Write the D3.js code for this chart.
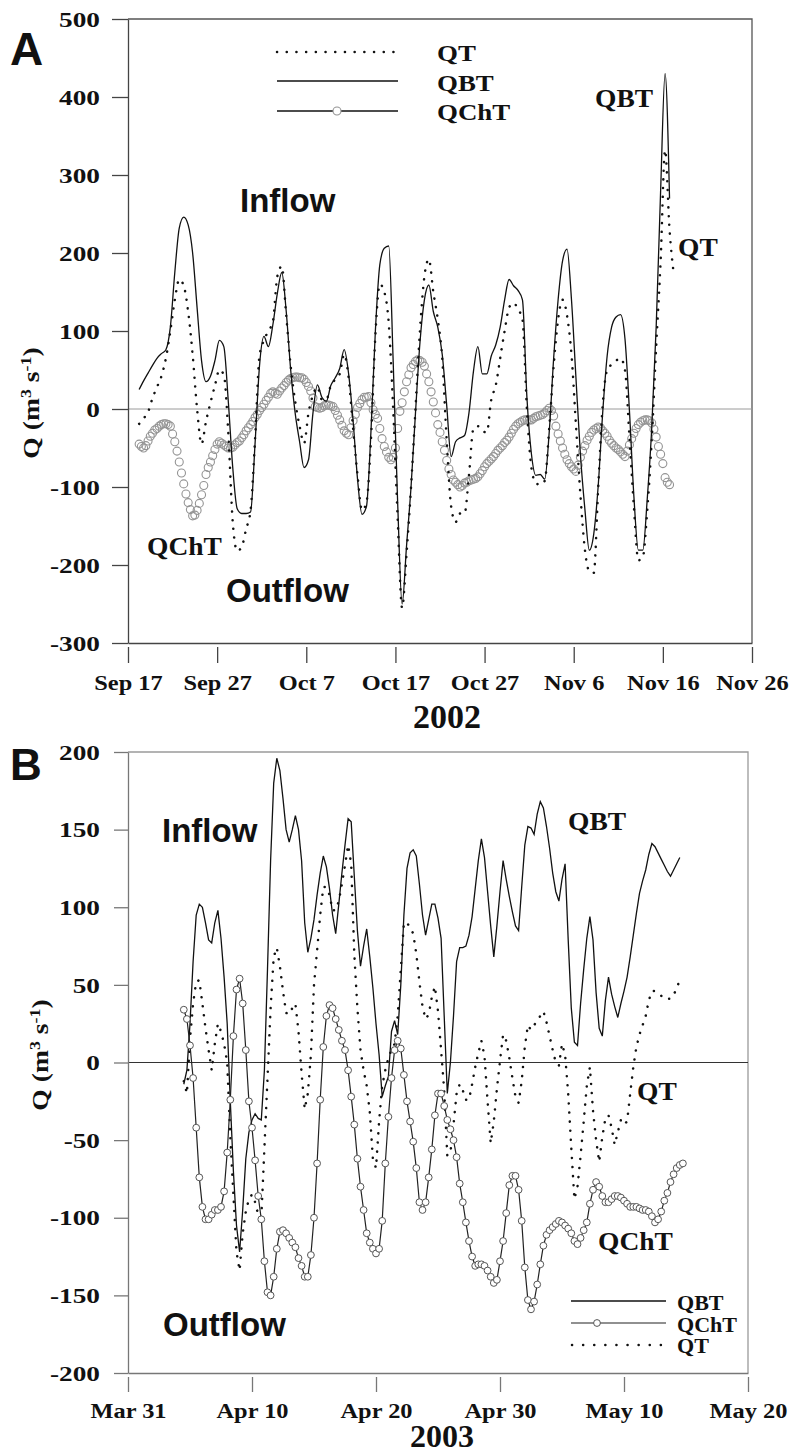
<!DOCTYPE html>
<html><head><meta charset="utf-8">
<script src="https://cdn.jsdelivr.net/npm/d3@7"></script>
<style>
html,body{margin:0;padding:0;background:#fff;}
svg{display:block;}
</style></head><body>
<svg id="chart" width="793" height="1455"></svg>
<script>
// ---------------- DATA ----------------
// Panel A (2002): QBT and QT every 12 h, QChT every 6 h, all starting 2002-09-18 06:00
const startA = "2002-09-18T06:00:00Z";
const stepA = 12;      // hours (QBT, QT)
const stepQChtA = 6;   // hours (QChT)
const qbtA = [25,36,46,56,65,71,76,105,175,232,
246,236,200,130,62,35,42,62,88,80,
10,-75,-128,-134,-134,-132,-45,55,93,80,
108,148,175,125,50,-5,-42,-75,-65,-5,
31,15,10,30,40,52,76,45,-15,-90,
-135,-125,-30,100,185,206,209,60,-120,-250,
-175,-100,-5,85,140,159,125,105,70,5,
-61,-42,-37,-34,-5,48,80,45,45,68,
82,105,140,166,158,152,140,15,-57,-85,
-84,-90,-30,65,140,190,205,140,40,-58,
-128,-181,-160,-98,-5,68,105,118,121,90,
-2,-112,-181,-181,-115,-25,105,280,430,270];
const qtA = [-19,-12,-4,14,28,42,65,100,140,166,
158,125,70,0,-45,-16,8,30,50,44,
-30,-145,-182,-177,-154,-130,-40,68,88,100,
112,170,183,120,55,10,-22,-44,-5,18,
28,12,12,30,38,45,70,40,-25,-85,
-130,-120,-40,95,160,150,110,0,-140,-255,
-185,-100,0,100,170,192,150,115,65,-40,
-125,-145,-134,-134,-85,-25,-22,-28,-30,12,
30,65,100,130,136,128,115,0,-75,-95,
-97,-92,-25,55,115,140,120,70,-20,-110,
-180,-208,-210,-100,5,50,57,62,65,50,
-35,-125,-194,-190,-130,-40,80,190,332,230,
170];
const qchtA = [-45,-48,-50,-47,-41,-35,-31,-27,-25,-22,-20,-19,
-19,-20,-22,-32,-42,-54,-68,-82,-96,-109,-120,-129,
-137,-136,-130,-121,-110,-98,-84,-75,-68,-60,-52,-45,
-42,-44,-46,-48,-50,-50,-49,-46,-43,-41,-37,-33,
-28,-24,-20,-16,-11,-7,-2,2,6,11,15,20,
22,20,19,23,27,30,34,37,39,40,41,41,
40,40,38,34,29,23,14,3,2,1,2,4,
5,5,4,3,-2,-8,-14,-21,-28,-31,-33,-24,
-15,-7,2,7,12,15,15,16,8,-1,-7,-12,
-25,-38,-48,-55,-62,-65,-62,-50,-25,-3,8,22,
35,44,53,57,61,63,62,60,55,45,35,22,
9,-5,-20,-30,-42,-53,-66,-77,-84,-91,-94,-97,
-100,-98,-95,-94,-92,-91,-90,-89,-87,-83,-79,-74,
-70,-67,-64,-61,-57,-53,-50,-47,-43,-40,-36,-31,
-26,-22,-19,-17,-15,-14,-14,-14,-14,-12,-10,-9,
-8,-7,-5,-2,1,-2,-9,-22,-32,-41,-50,-58,
-65,-70,-74,-77,-80,-72,-62,-54,-47,-40,-35,-30,
-27,-25,-23,-24,-28,-31,-35,-40,-44,-47,-50,-52,
-55,-58,-61,-54,-46,-38,-31,-25,-20,-17,-15,-14,
-14,-15,-18,-26,-36,-48,-58,-70,-88,-94,-97];

// Panel B (2003): all series every 6 h starting 2003-04-04 12:00
const startB = "2003-04-04T12:00:00Z";
const stepB = 6; // hours
const qbtB = [-14,-5,25,65,95,102,100,90,79,77,
90,98,80,55,25,-25,-70,-105,-122,-95,
-62,-45,-37,-33,-36,-37,-5,60,130,180,
196,188,170,150,142,150,159,150,130,90,
71,80,92,108,122,133,126,112,95,83,
102,122,140,157,155,120,85,62,75,86,
68,48,25,5,-22,-15,-9,20,27,18,
50,95,125,135,137,133,115,95,82,92,
102,102,93,80,30,-20,0,30,65,74,
74,75,82,94,112,130,144,132,110,88,
68,88,110,130,118,107,97,88,85,113,
140,152,151,147,160,168,164,152,138,122,
110,104,118,128,79,35,13,11,38,60,
80,94,79,45,22,17,40,55,44,36,
29,38,46,55,68,82,96,109,117,124,
134,141,139,135,131,127,123,120,124,128,
132];
const qtB = [-12,-20,15,38,52,53,38,22,8,-5,
12,25,20,12,0,-48,-85,-122,-134,-110,
-96,-88,-85,-90,-98,-100,-55,-10,35,68,
74,62,46,32,31,35,38,20,-7,-30,
-20,5,50,72,95,113,113,108,98,98,
104,115,127,140,128,70,35,8,-5,-15,
-32,-62,-68,-38,-15,-5,3,8,12,30,
60,90,90,87,83,70,52,36,28,31,
42,49,33,8,-18,-60,-58,-40,-20,-14,
-18,-24,-24,-14,-3,6,14,4,-25,-52,
-38,-17,1,18,14,3,-10,-22,-26,-12,
10,24,21,24,27,30,33,26,17,8,
0,-2,12,5,-20,-55,-88,-80,-60,-38,
-15,-3,-31,-50,-64,-48,-36,-34,-42,-53,
-45,-37,-40,-38,-20,-3,10,18,24,30,
40,46,46,45,43,41,41,41,44,47,
54];
const qchtB = [34,28,11,-10,-42,-74,-93,-101,-101,-98,
-95,-95,-93,-83,-58,-24,17,47,54,38,
8,-25,-42,-63,-86,-101,-128,-148,-150,-138,
-120,-109,-108,-110,-113,-116,-119,-126,-131,-138,
-138,-124,-100,-65,-24,10,30,37,35,28,
21,14,8,-5,-22,-40,-62,-80,-95,-110,
-116,-120,-123,-120,-102,-65,-35,-10,8,14,
9,-8,-25,-38,-51,-68,-90,-95,-90,-74,
-56,-34,-20,-20,-28,-37,-43,-50,-61,-78,
-90,-103,-115,-125,-131,-130,-130,-131,-134,-138,
-142,-140,-128,-115,-97,-79,-73,-73,-82,-102,
-132,-153,-159,-154,-143,-130,-118,-111,-108,-106,
-104,-102,-103,-105,-107,-110,-115,-117,-113,-108,
-103,-91,-82,-77,-80,-86,-90,-90,-88,-86,
-86,-87,-89,-91,-93,-93,-93,-94,-95,-95,
-96,-99,-103,-101,-96,-89,-84,-77,-72,-68,
-66,-65];

// Axis ticks
const yTicksA = [-300,-200,-100,0,100,200,300,400,500];
const xTickDatesA = ["2002-09-17","2002-09-27","2002-10-07","2002-10-17","2002-10-27","2002-11-06","2002-11-16","2002-11-26"];
const xTickLabelsA = ["Sep 17","Sep 27","Oct 7","Oct 17","Oct 27","Nov 6","Nov 16","Nov 26"];
const yTicksB = [-200,-150,-100,-50,0,50,100,150,200];
const xTickDatesB = ["2003-03-31","2003-04-10","2003-04-20","2003-04-30","2003-05-10","2003-05-20"];
const xTickLabelsB = ["Mar 31","Apr 10","Apr 20","Apr 30","May 10","May 20"];

// ---------------- DRAWING ----------------
const SERIF = '"Liberation Serif","Times New Roman",Times,serif';
const SANS = '"Liberation Sans",Arial,Helvetica,sans-serif';
const svg = d3.select("#chart");

function series(startISO, stepHours, values){
  const t0 = new Date(startISO).getTime();
  return values.map((v,i)=>({t:new Date(t0 + i*stepHours*3600e3), v}));
}
function addText(g, x, y, str, size, family, sx, anchor, weight){
  return g.append("text")
    .attr("transform", `translate(${x},${y}) scale(${sx},1)`)
    .attr("text-anchor", anchor || "start")
    .style("font-family", family).style("font-size", size+"px")
    .style("font-weight", weight || "bold").style("fill", "#111")
    .text(str);
}
function yLabel(g, x, y, size){
  const t = g.append("text")
    .attr("transform", `translate(${x},${y}) rotate(-90) scale(1.2,1)`)
    .attr("text-anchor","middle")
    .style("font-family", SERIF).style("font-size", size+"px")
    .style("font-weight","bold").style("fill","#111");
  t.append("tspan").text("Q (m");
  t.append("tspan").attr("dy",-8).style("font-size",(size*0.65)+"px").text("3");
  t.append("tspan").attr("dy",8).text(" s");
  t.append("tspan").attr("dy",-8).style("font-size",(size*0.65)+"px").text("-1");
  t.append("tspan").attr("dy",8).text(")");
}

function panel(cfg){
  const g = svg.append("g");
  const x = d3.scaleUtc().domain(cfg.xDomain.map(d=>new Date(d+"T00:00:00Z"))).range([cfg.left, cfg.right]);
  const y = d3.scaleLinear().domain(cfg.yDomain).range([cfg.bottom, cfg.top]);

  g.append("path")
    .attr("d", `M${cfg.left},${cfg.top}H${cfg.right}V${cfg.bottom}`)
    .attr("fill","none").attr("stroke",cfg.frameColor).attr("stroke-width",1.3);
  g.append("line").attr("x1",cfg.left).attr("x2",cfg.right)
    .attr("y1",y(0)).attr("y2",y(0))
    .attr("stroke",cfg.zeroColor).attr("stroke-width",cfg.zeroWidth);

  const ya = g.append("g").attr("transform",`translate(${cfg.left},0)`)
    .call(d3.axisLeft(y).tickValues(cfg.yTicks).tickFormat(d=>String(d)).tickSize(cfg.yTickLen).tickSizeOuter(0));
  ya.select(".domain").attr("stroke",cfg.axisColor).attr("stroke-width",1.3);
  ya.selectAll(".tick line").attr("stroke",cfg.axisColor).attr("stroke-width",1.3);
  ya.selectAll(".tick text")
    .attr("x", -28/1.3).attr("dy","0.34em")
    .attr("transform","scale(1.3,1)")
    .style("font-family",SERIF).style("font-size","21px").style("font-weight","bold").style("fill","#111");

  const xa = g.append("g").attr("transform",`translate(0,${cfg.bottom})`)
    .call(d3.axisBottom(x).tickValues(cfg.xTickDates.map(d=>new Date(d+"T00:00:00Z")))
      .tickFormat((d,i)=>cfg.xTickLabels[i]).tickSize(20).tickSizeOuter(0));
  xa.select(".domain").attr("stroke",cfg.axisColor).attr("stroke-width",1.3);
  xa.selectAll(".tick line").attr("y1",4).attr("y2",cfg.xTickEnd).attr("stroke",cfg.axisColor).attr("stroke-width",1.3);
  xa.selectAll(".tick text")
    .attr("y", cfg.xLabelBase).attr("dy",0).attr("x",0)
    .attr("transform","scale(1.22,1)")
    .style("font-family",SERIF).style("font-size","20px").style("font-weight","bold").style("fill","#111");

  return {g, x, y};
}

// ---------- Panel A ----------
const A = panel({
  xDomain:["2002-09-17","2002-11-26"], yDomain:[-300,500],
  left:128, right:752, top:19, bottom:643,
  yTicks:yTicksA, xTickDates:xTickDatesA, xTickLabels:xTickLabelsA,
  yTickLen:16, xTickEnd:20, xLabelBase:47,
  frameColor:"#555", axisColor:"#444", zeroColor:"#9a9a9a", zeroWidth:1
});
const dA_qbt = series(startA, stepA, qbtA);
const dA_qt = series(startA, stepA, qtA);
const dA_qcht = series(startA, stepQChtA, qchtA);
const lineA = d3.line().x(d=>A.x(d.t)).y(d=>A.y(d.v)).curve(d3.curveMonotoneX);

A.g.append("g").selectAll("circle").data(dA_qcht).join("circle")
  .attr("cx",d=>A.x(d.t)).attr("cy",d=>A.y(d.v)).attr("r",4)
  .attr("fill","none").attr("stroke","#949494").attr("stroke-width",1.1);
A.g.append("path").datum(dA_qbt).attr("d",lineA)
  .attr("fill","none").attr("stroke","#111").attr("stroke-width",1.3);
A.g.append("path").datum(dA_qt).attr("d",lineA)
  .attr("fill","none").attr("stroke","#111").attr("stroke-width",2.5)
  .attr("stroke-dasharray","0.1 8.6").attr("stroke-linecap","round");

// legend A
const legA = A.g.append("g");
legA.append("line").attr("x1",277).attr("x2",395).attr("y1",52).attr("y2",52)
  .attr("stroke","#111").attr("stroke-width",2.5).attr("stroke-dasharray","0.1 9.6").attr("stroke-linecap","round");
legA.append("line").attr("x1",277).attr("x2",398).attr("y1",81).attr("y2",81)
  .attr("stroke","#111").attr("stroke-width",1.3);
legA.append("line").attr("x1",277).attr("x2",398).attr("y1",111).attr("y2",111)
  .attr("stroke","#111").attr("stroke-width",1.3);
legA.append("circle").attr("cx",337).attr("cy",111).attr("r",4)
  .attr("fill","#fff").attr("stroke","#949494").attr("stroke-width",1.1);
addText(legA,437,61,"QT",24,SERIF,1.12);
addText(legA,437,90.5,"QBT",24,SERIF,1.12);
addText(legA,437,120,"QChT",24,SERIF,1.12);

// annotations A
addText(A.g,10,65,"A",46,SANS,1);
addText(A.g,240,212,"Inflow",33,SANS,1);
addText(A.g,226,602,"Outflow",33,SANS,1);
addText(A.g,595,107,"QBT",25,SERIF,1.1);
addText(A.g,678,256,"QT",25,SERIF,1.1);
addText(A.g,147,555,"QChT",25,SERIF,1.1);
addText(A.g,447,728,"2002",34,SERIF,1,"middle");
yLabel(A.g,39,403,23);

// ---------- Panel B ----------
const B = panel({
  xDomain:["2003-03-31","2003-05-20"], yDomain:[-200,200],
  left:128, right:748, top:752, bottom:1373,
  yTicks:yTicksB, xTickDates:xTickDatesB, xTickLabels:xTickLabelsB,
  yTickLen:14, xTickEnd:19, xLabelBase:45,
  frameColor:"#9a9a9a", axisColor:"#777", zeroColor:"#333", zeroWidth:1.2
});
const dB_qbt = series(startB, stepB, qbtB);
const dB_qt = series(startB, stepB, qtB);
const dB_qcht = series(startB, stepB, qchtB);
const lineB = d3.line().x(d=>B.x(d.t)).y(d=>B.y(d.v));

B.g.append("path").datum(dB_qbt).attr("d",lineB)
  .attr("fill","none").attr("stroke","#111").attr("stroke-width",1.3);
B.g.append("path").datum(dB_qt).attr("d",lineB)
  .attr("fill","none").attr("stroke","#111").attr("stroke-width",2.5)
  .attr("stroke-dasharray","0.1 9").attr("stroke-linecap","round");
B.g.append("path").datum(dB_qcht).attr("d",lineB)
  .attr("fill","none").attr("stroke","#222").attr("stroke-width",1.2);
B.g.append("g").selectAll("circle").data(dB_qcht).join("circle")
  .attr("cx",d=>B.x(d.t)).attr("cy",d=>B.y(d.v)).attr("r",3.4)
  .attr("fill","#fff").attr("stroke","#555").attr("stroke-width",1);

// legend B
const legB = B.g.append("g");
legB.append("line").attr("x1",571).attr("x2",666).attr("y1",1301).attr("y2",1301)
  .attr("stroke","#111").attr("stroke-width",1.3);
legB.append("line").attr("x1",571).attr("x2",666).attr("y1",1323).attr("y2",1323)
  .attr("stroke","#222").attr("stroke-width",1.2);
legB.append("circle").attr("cx",597).attr("cy",1323).attr("r",3.4)
  .attr("fill","#fff").attr("stroke","#555").attr("stroke-width",1);
legB.append("line").attr("x1",572).attr("x2",662).attr("y1",1345).attr("y2",1345)
  .attr("stroke","#111").attr("stroke-width",2.5).attr("stroke-dasharray","0.1 11").attr("stroke-linecap","round");
addText(legB,677,1310,"QBT",21,SERIF,1.05);
addText(legB,677,1332,"QChT",21,SERIF,1.05);
addText(legB,677,1353,"QT",21,SERIF,1.05);

// annotations B
addText(B.g,10,780,"B",44,SANS,1);
addText(B.g,162,842,"Inflow",33,SANS,1);
addText(B.g,163,1336,"Outflow",33,SANS,1);
addText(B.g,568,830,"QBT",25,SERIF,1.1);
addText(B.g,637,1100,"QT",25,SERIF,1.1);
addText(B.g,598,1250,"QChT",25,SERIF,1.1);
addText(B.g,442,1447,"2003",32,SERIF,1,"middle");
yLabel(B.g,48,1055,23);
</script>
</body></html>
